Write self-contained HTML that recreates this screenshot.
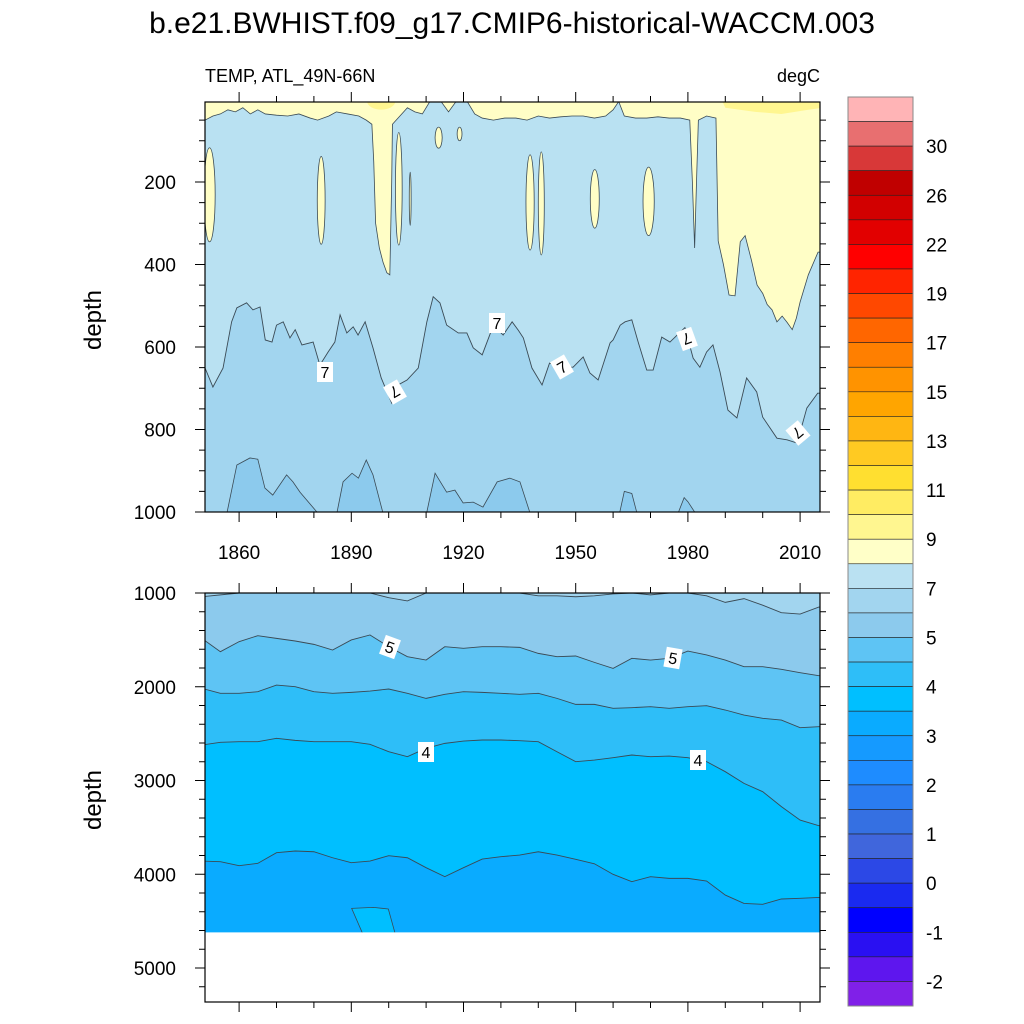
<!DOCTYPE html>
<html><head><meta charset="utf-8"><style>
html,body{margin:0;padding:0;background:#fff;}
svg{display:block;font-family:"Liberation Sans",sans-serif;}
</style></head><body>
<svg id="chart" width="1024" height="1024" viewBox="0 0 1024 1024" xmlns="http://www.w3.org/2000/svg">
<defs>
<clipPath id="clipTop"><rect x="205" y="102" width="615" height="410"/></clipPath>
<clipPath id="clipBot"><rect x="205" y="593" width="615" height="409"/></clipPath>
</defs>
<text x="512" y="33" text-anchor="middle" font-size="30">b.e21.BWHIST.f09_g17.CMIP6-historical-WACCM.003</text>
<text x="205" y="82" font-size="18">TEMP, ATL_49N-66N</text>
<text x="820" y="82" font-size="18" text-anchor="end">degC</text>
<text transform="translate(101,320) rotate(-90)" font-size="24" text-anchor="middle">depth</text>
<text transform="translate(101,800) rotate(-90)" font-size="24" text-anchor="middle">depth</text>
<g id="topPanel" clip-path="url(#clipTop)"></g>
<g id="botPanel" clip-path="url(#clipBot)"></g>
<g id="axes"></g>
<g id="cbar"></g>
</svg>
<script>
// ---- data ----
const years7 = [1850.9,1853,1855.7,1858,1859.4,1862,1863.7,1865.6,1867,1868.8,1870,1871.8,1873.6,1875,1876.8,1879.8,1881.6,1883.8,1885.6,1887,1888.8,1890.5,1891.8,1893.7,1895.8,1898,1900.8,1902.5,1904.9,1907.9,1910.2,1911.9,1913.7,1915.5,1918.6,1920.9,1922.6,1925,1927,1928,1930.6,1933,1934.7,1936,1938.3,1941,1943,1945.8,1949.3,1952,1953.8,1956,1959.2,1960,1961.9,1963.2,1965,1966.7,1969,1970.7,1973,1975.2,1979.2,1981.4,1983.2,1985,1986.7,1988.6,1990.7,1993.1,1995.7,1998.4,2000,2003.8,2006.5,2009.2,2011.8,2014.7];
const depth7 = [651,697,651,539,505,493,510,503,583,588,547,539,578,558,595,588,644,612,588,522,566,551,571,539,602,675,736,692,680,651,539,478,493,547,566,566,602,619,571,547,571,539,560,578,651,692,639,649,649,624,663,680,590,583,547,539,534,588,656,656,576,588,553,627,649,612,595,661,753,772,675,709,770,821,825,833,748,712];
const years8 = [1850.9,1853,1855,1857,1859,1861,1863,1865,1867,1870,1873,1876,1879,1881,1884,1886,1889,1892,1894,1895.5,1896,1896.5,1897.5,1898.5,1899.5,1900.3,1900.8,1901,1903,1905,1907,1909,1911,1914,1916,1918,1921,1923,1925,1928,1931,1934,1937,1940,1943,1946,1949,1952,1955,1958,1960,1961.5,1963,1966,1969,1972,1975,1978,1980.5,1981.2,1981.8,1982.3,1982.8,1985,1987.5,1988.1,1989.5,1991,1992.6,1994,1995.3,1997,1998.5,2000,2001.2,2002.5,2003.8,2005.2,2006.5,2007.9,2009,2010,2012.2,2014.8];
const depth8 = [50,40,35,25,30,20,35,25,35,38,40,35,45,50,40,30,35,40,50,60,150,300,360,395,420,425,200,60,40,20,30,35,5,5,30,5,5,35,45,50,45,45,50,40,45,42,40,40,45,40,25,5,40,45,45,42,45,45,50,200,360,200,50,40,45,343,400,474,476,345,330,390,450,470,497,510,539,525,540,558,530,491,425,370];
const warmCells = [[1850.6,1853.6,117,345],[1880.9,1883,138,351],[1901.8,1903.6,80,353],[1905.5,1906,176,305],[1912.4,1914.3,67,118],[1918.3,1919.6,67,100],[1936.7,1938.9,134,365],[1940,1941.6,127,377],[1953.9,1956.3,170,312],[1968,1971,164,330]];
const bump1Years = [1856.8,1859.4,1862.9,1865,1866.9,1869,1872.7,1874.4,1876.3,1880.8];
const bump1Depths = [1000,886,869,872,942,959,910,927,952,1000];
const bump2Years = [1886.2,1887.8,1890.2,1891.9,1894,1895.8,1898.4];
const bump2Depths = [1000,927,906,918,874,910,1000];
const bump3Years = [1910.2,1912.4,1915.5,1917.7,1919.9,1922.6,1925.2,1929,1932.4,1935.1,1937.7];
const bump3Depths = [1000,906,952,947,978,976,988,927,918,927,1000];
const bump4Years = [1961.8,1963,1965,1966.3];
const bump4Depths = [1000,950,955,1000];
const bump5Years = [1977.5,1979,1980,1981.8];
const bump5Depths = [1000,965,975,1000];
const yearsDeep = [1850,1855,1860,1865,1870,1875,1880,1885,1890,1895,1900,1905,1910,1915,1920,1925,1930,1935,1940,1945,1950,1955,1960,1965,1970,1975,1980,1985,1990,1995,2000,2005,2010,2015];
const iso6 = [1040,1020,1000,1000,1000,1000,1000,1000,1000,1000,1050,1085,1000,1000,1000,1000,1000,1000,1030,1030,1040,1030,1010,1000,1020,1000,1000,1030,1100,1060,1130,1210,1225,1150];
const iso5 = [1484,1626,1519,1455,1484,1512,1548,1608,1501,1448,1573,1679,1715,1573,1590,1573,1573,1580,1644,1679,1672,1740,1804,1697,1715,1697,1619,1661,1715,1786,1786,1814,1850,1882];
const iso45 = [2017,2070,2070,2053,1982,1999,2053,2070,2060,2046,2024,2070,2124,2081,2053,2060,2070,2081,2070,2124,2188,2188,2230,2223,2213,2230,2213,2202,2248,2302,2337,2355,2437,2426];
const iso4 = [2622,2593,2586,2586,2550,2572,2586,2586,2586,2614,2693,2746,2657,2604,2579,2568,2568,2575,2586,2693,2799,2782,2757,2728,2746,2739,2757,2799,2906,3031,3119,3279,3422,3482];
const iso35 = [3859,3866,3909,3884,3770,3752,3760,3824,3877,3859,3802,3824,3930,4026,3930,3838,3813,3795,3760,3795,3841,3888,4001,4079,4026,4044,4044,4072,4222,4311,4321,4264,4257,4247];
const coldCellYears = [1890.1,1895.9,1899.9,1901.7,1893.0];
const coldCellDepths = [4364,4353,4371,4630,4630];
const dataBottomDepth = 4620;
const cbColors = ['#ffb4b6','#e86f70','#d83838','#c00000','#d20000','#e20000','#ff0000','#ff2400','#ff4800','#ff6600','#ff7f00','#ff9300','#ffa500','#ffb612','#ffca22','#ffdf30','#ffec62','#fff690','#ffffc8','#bae1f2','#a2d5ef','#8ccaed','#5ec4f4','#2ebef8','#00bfff','#0aabff','#159aff','#1e8cff','#2a7cf0','#3570e2','#4066dc','#2c48e6','#1a2af0','#0000ff','#2a10f2','#5e16ee','#8020e8'];
const cbLabels = ['30','26','22','19','17','15','13','11','9','7','5','4','3','2','1','0','-1','-2'];
const xTickYears = [1860,1890,1920,1950,1980,2010];
const topDepthTicks = [200,400,600,800,1000];
const botDepthTicks = [1000,2000,3000,4000,5000];

// ---- scales ----
const NS='http://www.w3.org/2000/svg';
const xS = yr => 201.7 + (yr-1850)*3.74;
const yT = d => 512 - (1000-d)*0.4125;
const yB = d => 593 + (d-1000)*0.09375;
function mk(tag, attrs, parent){const e=document.createElementNS(NS,tag);for(const k in attrs)e.setAttribute(k,attrs[k]);parent.appendChild(e);return e;}
const topG = document.getElementById('topPanel');
const botG = document.getElementById('botPanel');
const axesG = document.getElementById('axes');
const cbarG = document.getElementById('cbar');
const C = {c78:'#b9e1f2',c67:'#a2d5ef',c56:'#8ccaed',c455:'#5ec4f4',c445:'#2ebef8',c354:'#00bfff',c335:'#0aabff',y89:'#fffec6',y910:'#fff690'};
const LINE = '#3a4a55';

function fromTop(years, depths, ys, topD){
  let p = `M${xS(years[0]-3)},${ys(topD)} L${xS(years[0]-3)},${ys(depths[0])}`;
  years.forEach((y,i)=>{p+=` L${xS(y)},${ys(depths[i])}`;});
  p += ` L${xS(years[years.length-1]+3)},${ys(depths[depths.length-1])} L${xS(years[years.length-1]+3)},${ys(topD)} Z`;
  return p;
}
function lineP(years, depths, ys){
  let p = `M${xS(years[0]-3)},${ys(depths[0])}`;
  years.forEach((y,i)=>{p+=` L${xS(y)},${ys(depths[i])}`;});
  p += ` L${xS(years[years.length-1]+3)},${ys(depths[depths.length-1])}`;
  return p;
}
function polyP(years, depths, ys){
  return 'M'+years.map((y,i)=>`${xS(y)},${ys(depths[i])}`).join(' L')+' Z';
}

// ---- top panel ----
let e;
e = mk('rect',{x:205,y:102,width:615,height:410,fill:C.c67},topG);
 
[[bump1Years,bump1Depths],[bump2Years,bump2Depths],[bump3Years,bump3Depths],[bump4Years,bump4Depths],[bump5Years,bump5Depths]].forEach(b=>{
  const el = mk('path',{d:polyP(b[0],b[1],yT),fill:C.c56,stroke:LINE,'stroke-width':0.8},topG);
  
  
});
e = mk('path',{d:fromTop(years7,depth7,yT,0),fill:C.c78},topG);
 
e = mk('path',{d:lineP(years7,depth7,yT),fill:'none',stroke:LINE,'stroke-width':0.9},topG);
 
e = mk('path',{d:fromTop(years8,depth8,yT,0),fill:C.y89,stroke:LINE,'stroke-width':0.8},topG);
 
warmCells.forEach(c=>{
  const cx=(xS(c[0])+xS(c[1]))/2, rx=(xS(c[1])-xS(c[0]))/2, cy=(yT(c[2])+yT(c[3]))/2, ry=(yT(c[3])-yT(c[2]))/2;
  const el = mk('ellipse',{cx:cx,cy:cy,rx:rx,ry:ry,fill:C.y89,stroke:LINE,'stroke-width':0.8},topG);
  
  
});
e = mk('ellipse',{cx:xS(1898),cy:yT(5),rx:14,ry:8,fill:C.y910},topG);
 
e = mk('path',{d:`M${xS(1989)},${yT(0)} L${xS(1990)},${yT(20)} L${xS(1998)},${yT(30)} L${xS(2005)},${yT(35)} L${xS(2012)},${yT(25)} L${xS(2016)},${yT(20)} L${xS(2016)},${yT(0)} Z`,fill:C.y910},topG);
 

function clabel(parent,x,y,t,rot){
  const g = mk('g',{transform:`translate(${x},${y}) rotate(${rot})`},parent);
  
  
  mk('rect',{x:-8,y:-10,width:16,height:20,fill:'#fff'},g);
  const tx = mk('text',{x:0,y:6,'text-anchor':'middle','font-size':16},g);
  tx.textContent=t;
}
clabel(axesG,325,372,'7',0);
clabel(axesG,395,392,'7',150);
clabel(axesG,497,323,'7',0);
clabel(axesG,562,367,'7',-30);
clabel(axesG,687,339,'7',160);
clabel(axesG,798,433,'7',140);

// ---- bottom panel ----
e = mk('rect',{x:205,y:593,width:615,height:409,fill:C.c335},botG);
 
const bands=[[iso35,C.c354,'band-3.5-4'],[iso4,C.c445,'band-4-4.5'],[iso45,C.c455,'band-4.5-5'],[iso5,C.c56,'band-5-6'],[iso6,C.c67,'band-6-7']];
bands.forEach(b=>{
  const el = mk('path',{d:fromTop(yearsDeep,b[0],yB,900),fill:b[1]},botG);
  
  
});
bands.forEach(b=>{
  const el = mk('path',{d:lineP(yearsDeep,b[0],yB),fill:'none',stroke:LINE,'stroke-width':0.9},botG);
  
  
});
e = mk('path',{d:polyP(coldCellYears,coldCellDepths,yB),fill:C.c354,stroke:LINE,'stroke-width':0.8},botG);
 
e = mk('rect',{x:205,y:yB(dataBottomDepth),width:615,height:1002-yB(dataBottomDepth),fill:'#fff'},botG);
 
clabel(axesG,390,647,'5',20);
clabel(axesG,673,658,'5',10);
clabel(axesG,426,752,'4',0);
clabel(axesG,698,760,'4',0);

// ---- axes ----
function frame(y0,y1,nm){
  const r = mk('rect',{x:205,y:y0,width:615,height:y1-y0,fill:'none',stroke:'#000','stroke-width':1.2},axesG);
  
  
}
frame(102,512,'upper-plot-frame');
frame(593,1002,'lower-plot-frame');
function xticks(y0,y1,labels){
  for(let yr=1850;yr<=2015;yr+=10){
    const major = xTickYears.includes(yr), L = major?10:6, x=xS(yr);
    if(x<205||x>820) continue;
    mk('line',{x1:x,y1:y0,x2:x,y2:y0-L,stroke:'#000','stroke-width':1},axesG);
    mk('line',{x1:x,y1:y1,x2:x,y2:y1+L,stroke:'#000','stroke-width':1},axesG);
  }
  if(labels) xTickYears.forEach(yr=>{
    const t = mk('text',{x:xS(yr),y:y1+47,'text-anchor':'middle','font-size':19},axesG);
    
    
    t.textContent=yr;
  });
}
xticks(102,512,true);
xticks(593,1002,false);
function yticks(ys,dmin,dmax,step,majors,tag){
  for(let d=dmin; d<=dmax; d+=step){
    const y=ys(d);
    const major = majors.includes(d), L=major?10:6;
    mk('line',{x1:205,y1:y,x2:205-L,y2:y,stroke:'#000','stroke-width':1},axesG);
    mk('line',{x1:820,y1:y,x2:820+L,y2:y,stroke:'#000','stroke-width':1},axesG);
  }
  majors.forEach(d=>{
    const t = mk('text',{x:176,y:ys(d)+7,'text-anchor':'end','font-size':19},axesG);
    
    
    t.textContent=d;
  });
}
yticks(yT,50,1000,50,topDepthTicks,'y-tick-label-top');
yticks(yB,1000,5350,200,botDepthTicks,'y-tick-label-bottom');

// ---- colorbar ----
const cbTop=97, cbH=909, nBoxes=cbColors.length, bh=cbH/nBoxes;
cbColors.forEach((c,i)=>{
  const r = mk('rect',{x:848,y:cbTop+i*bh,width:65,height:bh,fill:c,stroke:'#222','stroke-width':0.6},cbarG);
  
  
});
mk('rect',{x:848,y:cbTop,width:65,height:cbH,fill:'none',stroke:'#888','stroke-width':1},cbarG);
cbLabels.forEach((l,i)=>{
  const t = mk('text',{x:926,y:cbTop+(2*i+2)*bh+7,'font-size':19},cbarG);
  
  
  t.textContent=l;
});
</script>
</body></html>
